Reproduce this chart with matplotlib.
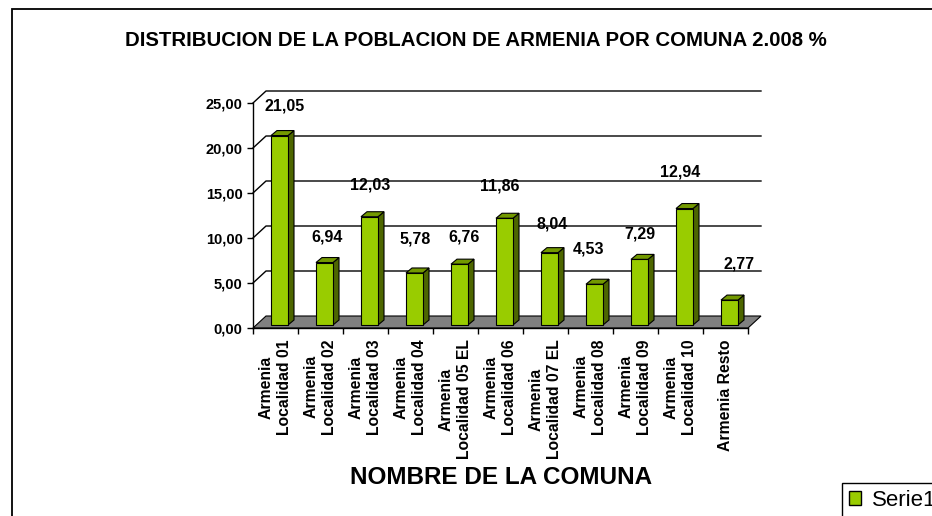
import numpy as np
import matplotlib.pyplot as plt
from matplotlib.patches import Polygon, Rectangle, Patch

# data
categories = ['Armenia\nLocalidad 01', 'Armenia\nLocalidad 02', 'Armenia\nLocalidad 03',
              'Armenia\nLocalidad 04', 'Armenia\nLocalidad 05 EL', 'Armenia\nLocalidad 06',
              'Armenia\nLocalidad 07 EL', 'Armenia\nLocalidad 08', 'Armenia\nLocalidad 09',
              'Armenia\nLocalidad 10', 'Armenia Resto']
values = [21.05, 6.94, 12.03, 5.78, 6.76, 11.86, 8.04, 4.53, 7.29, 12.94, 2.77]
y_ticks = [0, 5, 10, 15, 20, 25]
title = 'DISTRIBUCION DE LA POBLACION DE ARMENIA POR COMUNA 2.008 %'
x_title = 'NOMBRE DE LA COMUNA'
series_name = 'Serie1'

# label nudges (pixels) relative to the bar's front top
label_dx = [5.5, 2.5, 0.5, 1, 4.5, -4.5, 3, -6, 0, -4.5, 9.5]
label_dy = [29.5, 26, 32, 34, 27, 32, 29, 35, 25, 37, 36]

GREEN, SIDE, TOP, FLOOR = '#99CC00', '#4D6600', '#739900', '#808080'

plt.rcParams['font.family'] = 'Liberation Sans'
plt.rcParams['font.weight'] = 'bold'

W, H, DPI = 932, 516, 100
fig = plt.figure(figsize=(W / DPI, H / DPI), dpi=DPI)

# front plane of the plot: x 253..748 px, y 103..328 px (from top)
ax = fig.add_axes([253 / W, (H - 328) / H, 495 / W, 225 / H])
n = len(values)
ax.set_xlim(-0.5, n - 0.5)
ax.set_ylim(y_ticks[0], y_ticks[-1])
px_x = 495 / n
px_y = 225 / (y_ticks[-1] - y_ticks[0])


def dpx(dx, dy):
    return dx / px_x, dy / px_y


DX, DY = dpx(13, 12)          # depth of the floor / walls
bdx, bdy = dpx(6, 5)          # depth of each bar
ox, oy = dpx(4, 3)            # bar front offset into depth
bw = 17 / px_x

# back wall + side wall gridlines
for v in y_ticks[1:]:
    ax.plot([-0.5, -0.5 + DX, n - 0.5 + DX], [v, v + DY, v + DY],
            color='black', lw=1, clip_on=False, zorder=1)

# floor
ax.add_patch(Polygon([(-0.5, 0), (n - 0.5, 0), (n - 0.5 + DX, DY), (-0.5 + DX, DY)],
                     closed=True, fc=FLOOR, ec='black', lw=0.8, clip_on=False, zorder=2))

# bars
xs = np.arange(n) + ox
ax.bar(xs, values, width=bw, bottom=oy, color=GREEN, edgecolor='black', lw=0.8, zorder=5)
for xi, v in zip(xs, values):
    xl, xr, yt = xi - bw / 2, xi + bw / 2, oy + v
    ax.add_patch(Polygon([(xr, oy), (xr + bdx, oy + bdy), (xr + bdx, yt + bdy), (xr, yt)],
                         closed=True, fc=SIDE, ec='black', lw=0.8, clip_on=False, zorder=4))
    ax.add_patch(Polygon([(xl, yt), (xr, yt), (xr + bdx, yt + bdy), (xl + bdx, yt + bdy)],
                         closed=True, fc=TOP, ec='black', lw=0.8, clip_on=False, zorder=4))

# value labels
for xi, v, ddx, ddy in zip(xs, values, label_dx, label_dy):
    ax.annotate(f'{v:.2f}'.replace('.', ','), xy=(xi, oy + v), xytext=(ddx, ddy),
                textcoords='offset pixels', ha='center', va='center',
                fontsize=11.5, fontweight='bold', zorder=6)

# axes styling
for s in ['top', 'right']:
    ax.spines[s].set_visible(False)
ax.spines['left'].set_linewidth(1)
ax.spines['bottom'].set_linewidth(1)
ax.spines['left'].set_zorder(3)
ax.spines['bottom'].set_zorder(3)
ax.patch.set_visible(False)

ax.set_yticks(y_ticks)
ax.set_yticklabels([f'{t:.2f}'.replace('.', ',') for t in y_ticks], fontsize=10.5, fontweight='bold')
ax.tick_params(axis='y', direction='out', length=4, width=1, pad=3.5)

ax.set_xticks(np.arange(-0.5, n, 1))
ax.set_xticklabels([])
ax.tick_params(axis='x', which='major', direction='out', length=4, width=1)
ax.set_xticks(np.arange(n), minor=True)
ax.set_xticklabels(categories, minor=True, rotation=90, va='top', ha='center',
                   multialignment='center', fontsize=11.3, fontweight='bold', linespacing=1.25)
ax.tick_params(axis='x', which='minor', length=0, pad=8)

fig.text(476 / W, 1 - 41 / H, title, ha='center', va='center', fontsize=14.7, fontweight='bold')
fig.text(501 / W, 1 - 477 / H, x_title, ha='center', va='center', fontsize=17.5, fontweight='bold')

leg = fig.legend(handles=[Patch(fc=GREEN, ec='black', label=series_name)], loc='upper left',
                 bbox_to_anchor=(842 / W, 1 - 483 / H), frameon=True, fancybox=False,
                 edgecolor='black', framealpha=1, borderaxespad=0,
                 prop={'family': 'Liberation Sans', 'weight': 'normal', 'size': 16},
                 handlelength=0.55, handleheight=0.55, handletextpad=0.5, borderpad=0.3)
leg.get_frame().set_linewidth(1)

fig.add_artist(Rectangle((12 / W, -0.1), 1.2, 1 - 9 / H + 0.1, transform=fig.transFigure,
                         fill=False, ec='black', lw=1.3))

fig.savefig('out.png', dpi=DPI)
